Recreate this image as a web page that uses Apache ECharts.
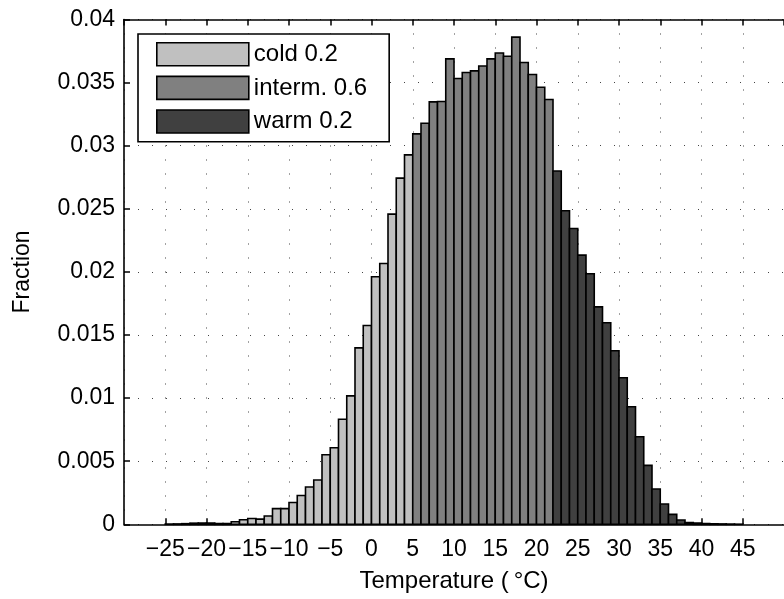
<!DOCTYPE html>
<html>
<head>
<meta charset="utf-8">
<title>Temperature histogram</title>
<script src="https://cdn.jsdelivr.net/npm/echarts@6/dist/echarts.min.js"></script>
<style>
  html, body { margin: 0; padding: 0; background: #fff; }
  #container { width: 784px; height: 599px; }
</style>
</head>
<body>
<div id="container"></div>
<script>
// left edge of each 1 °C bin
const bins = [
  -25, -24, -23, -22, -21, -20, -19, -18, -17, -16,
  -15, -14, -13, -12, -11, -10, -9, -8, -7, -6,
  -5, -4, -3, -2, -1, 0, 1, 2, 3, 4,
  5, 6, 7, 8, 9, 10, 11, 12, 13, 14,
  15, 16, 17, 18, 19, 20, 21, 22, 23, 24,
  25, 26, 27, 28, 29, 30, 31, 32, 33, 34,
  35, 36, 37, 38, 39, 40, 41, 42, 43, 44
];
// fraction per bin
const fraction = [
  0.00002, 0.00003, 0.00005, 0.00009, 0.0001, 0.0001, 0.00006, 0.00006, 0.0002, 0.00036,
  0.00046, 0.00041, 0.00066, 0.00124, 0.00124, 0.00173, 0.00228, 0.00295, 0.00351, 0.00551,
  0.00607, 0.00832, 0.01018, 0.01398, 0.01575, 0.01961, 0.02067, 0.02458, 0.02743, 0.02927,
  0.03094, 0.03178, 0.03347, 0.0335, 0.03688, 0.03532, 0.0358, 0.03593, 0.03632, 0.03688,
  0.03735, 0.03709, 0.0386, 0.03659, 0.03564, 0.03463, 0.03366, 0.028, 0.02484, 0.02344,
  0.02133, 0.01985, 0.01723, 0.01597, 0.01375, 0.01161, 0.00931, 0.00694, 0.00467, 0.0028,
  0.00161, 0.00079, 0.00034, 0.00013, 0.0001, 0.00006, 0.00004, 0.00003, 0.00002, 0.00001
];
// classes: name, bin range [from, to), colour
const classNames = ['cold 0.2', 'interm. 0.6', 'warm 0.2'];
const classFrom = [-Infinity, 5, 22];
const classTo = [5, 22, Infinity];
const classColors = ['#c0c0c0', '#808080', '#404040'];

const FONT = '"Liberation Sans", Arial, Helvetica, sans-serif';

function fmtTick(v) {
  const s = String(+Math.abs(v).toFixed(3));
  return v < 0 ? '\u2212' + s : s;
}

function makeSeries(i) {
  const data = [];
  bins.forEach((b, k) => {
    if (b >= classFrom[i] && b < classTo[i]) data.push([b, fraction[k]]);
  });
  return {
    name: classNames[i],
    type: 'custom',
    itemStyle: { color: classColors[i], borderColor: '#000', borderWidth: 1.5 },
    encode: { x: 0, y: 1 },
    data: data,
    renderItem: function (params, api) {
      const x0 = api.value(0);
      const top = api.coord([x0, api.value(1)]);
      const base = api.coord([x0 + 1, 0]);
      return {
        type: 'rect',
        shape: { x: top[0], y: top[1], width: base[0] - top[0], height: base[1] - top[1] },
        style: { fill: classColors[i], stroke: '#000', lineWidth: 1.6 }
      };
    }
  };
}

const chart = echarts.init(document.getElementById('container'), null, { renderer: 'canvas' });

const gridDots = { show: true, lineStyle: { color: '#444', width: 1, type: [1, 13] } };
const boxLine = { show: true, onZero: false, lineStyle: { color: '#000', width: 1.6 } };
const inTicks = { show: true, inside: true, length: 6, lineStyle: { color: '#000', width: 1.5 } };

chart.setOption({
  animation: false,
  backgroundColor: '#fff',
  textStyle: { fontFamily: FONT },
  grid: { left: 124, top: 19.5, bottom: 74.7, right: -10 },
  legend: {
    orient: 'vertical',
    left: 138,
    top: 34,
    padding: [8, 22, 8, 18],
    itemGap: 9,
    itemWidth: 92,
    itemHeight: 23,
    icon: 'rect',
    backgroundColor: '#fff',
    borderColor: '#000',
    borderWidth: 1.6,
    borderRadius: 0,
    itemStyle: { borderColor: '#000', borderWidth: 1.6 },
    textStyle: { fontFamily: FONT, fontSize: 24, color: '#000' },
    data: classNames
  },
  xAxis: [{
    type: 'value',
    min: -30,
    max: 50,
    interval: 5,
    name: 'Temperature (\u2009°C)',
    nameLocation: 'middle',
    nameGap: 45,
    nameTextStyle: { fontFamily: FONT, fontSize: 24, color: '#000' },
    axisLine: boxLine,
    axisTick: inTicks,
    axisLabel: {
      showMinLabel: false, showMaxLabel: false,
      margin: 14, fontFamily: FONT, fontSize: 23, color: '#000',
      formatter: fmtTick
    },
    splitLine: gridDots
  }, {
    type: 'value',
    position: 'top',
    min: -30,
    max: 50,
    interval: 5,
    axisLine: boxLine,
    axisTick: inTicks,
    axisLabel: { show: false },
    splitLine: { show: false }
  }],
  yAxis: {
    type: 'value',
    min: 0,
    max: 0.04,
    interval: 0.005,
    name: 'Fraction',
    nameLocation: 'middle',
    nameGap: 90,
    nameTextStyle: { fontFamily: FONT, fontSize: 23, color: '#000' },
    axisLine: boxLine,
    axisTick: inTicks,
    axisLabel: { margin: 9, fontFamily: FONT, fontSize: 23, color: '#000', formatter: fmtTick },
    splitLine: gridDots
  },
  series: [makeSeries(0), makeSeries(1), makeSeries(2)]
});
</script>
</body>
</html>
